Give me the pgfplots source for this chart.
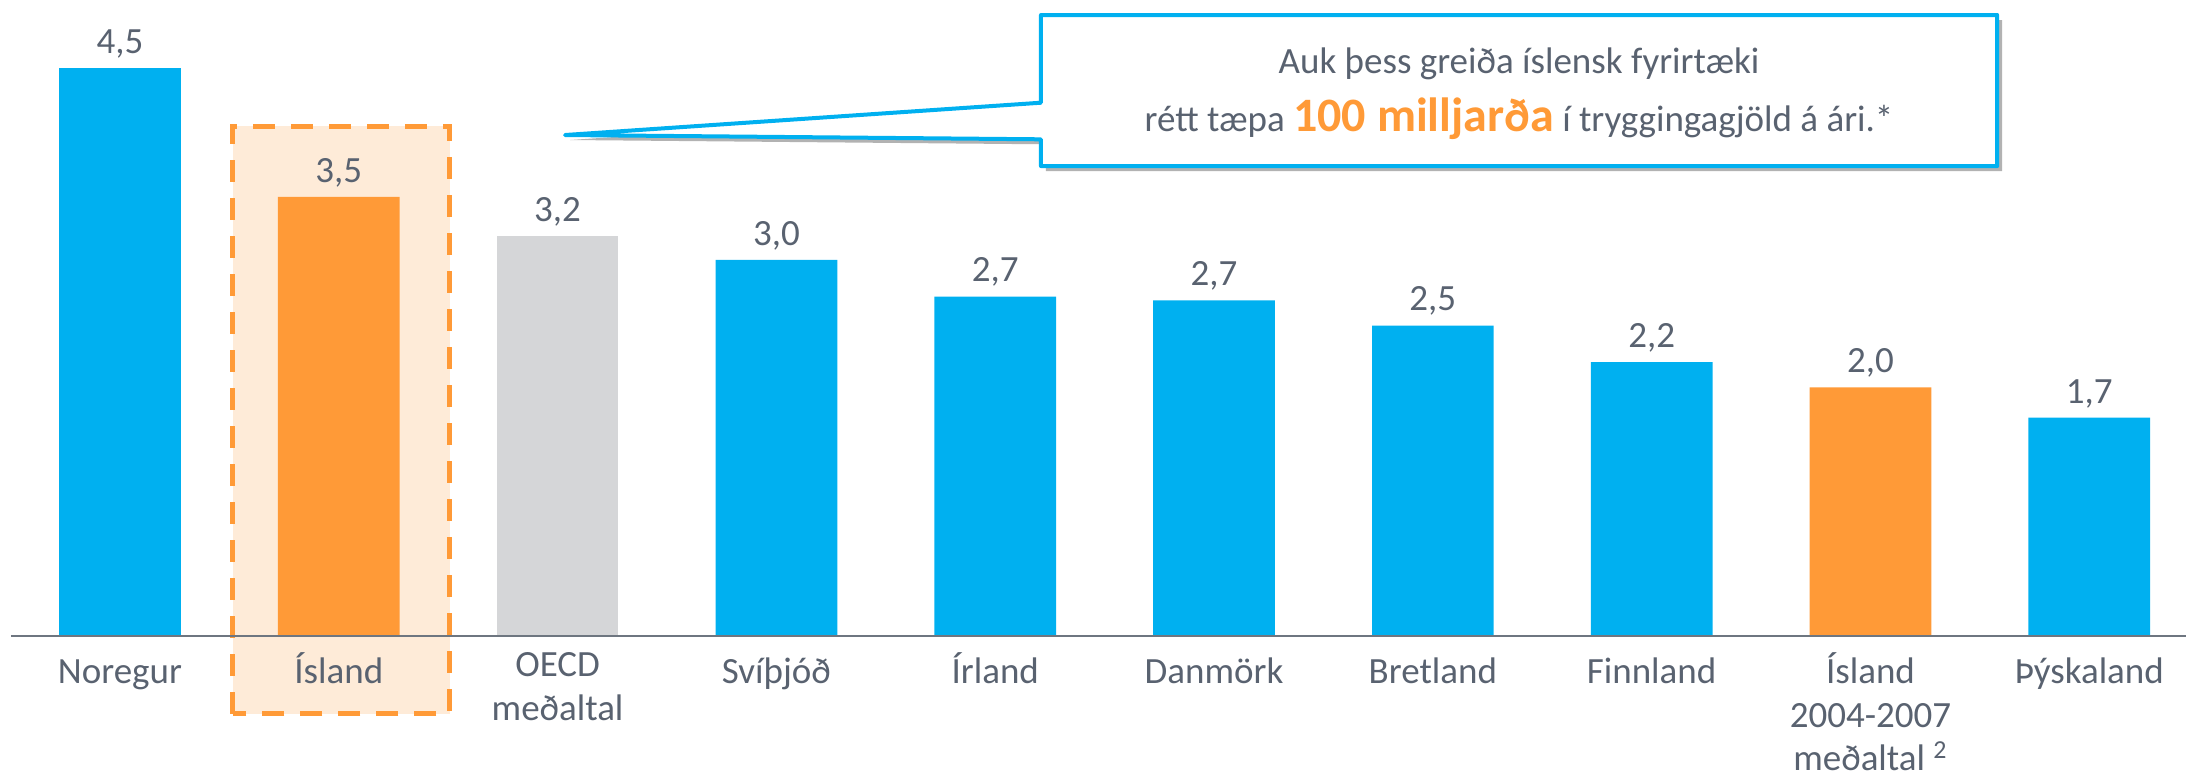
\documentclass[border=0pt]{standalone}
\usepackage{fontspec}
\setmainfont{Carlito}
\usepackage{pgfplots}
\pgfplotsset{compat=1.18}
\usetikzlibrary{shadows}

\definecolor{barblue}{HTML}{00B0F0}
\definecolor{barorange}{HTML}{FF9A37}
\definecolor{bargray}{HTML}{D5D6D8}
\definecolor{boxfill}{HTML}{FEEBD8}
\definecolor{txt}{HTML}{596270}
\definecolor{axisgray}{HTML}{6E7680}

\begin{document}
\begin{tikzpicture}
\begin{axis}[
    width=1087.5pt, height=318pt, scale only axis,
    xmin=-0.498, xmax=9.442, ymin=0, ymax=5.04,
    axis x line*=bottom, axis y line=none,
    x axis line style={axisgray, line width=1.2pt, -},
    xtick={0,...,9},
    xticklabels={Noregur, Ísland, OECD\\meðaltal, Svíþjóð, Írland, Danmörk, Bretland, Finnland, Ísland\\2004-2007\\meðaltal \textsuperscript{2}, Þýskaland},
    major tick length=0pt,
    xticklabel style={align=center, anchor=north, inner sep=0pt, yshift=-8.1pt, text=txt,
        font=\fontsize{18.5}{21.8}\selectfont, execute at begin node=\strut},
    ytick=\empty,
    ybar, bar width=60.85pt,
    nodes near coords,
    nodes near coords style={anchor=base, yshift=7.3pt, text=txt,
        font=\fontsize{18.5}{22.5}\selectfont},
    /pgf/number format/use comma,
    /pgf/number format/fixed,
    /pgf/number format/fixed zerofill,
    /pgf/number format/precision=1,
    /pgf/number format/assume math mode=true,
    clip=false, axis on top,
]
% highlight box round Island
\draw[barorange, line width=2.5pt, dash pattern=on 11pt off 8pt, fill=boxfill]
    (axis cs:0.516,-0.617) rectangle (axis cs:1.508,4.04);

\addplot[fill=barblue, draw=none, bar shift=0pt] coordinates {
    (0,4.50) (3,2.98) (4,2.69) (5,2.66) (6,2.46) (7,2.17) (9,1.73)};
\addplot[fill=barorange, draw=none, bar shift=0pt] coordinates {
    (1,3.48) (8,1.97)};
\addplot[fill=bargray, draw=none, bar shift=0pt] coordinates {
    (2,3.17)};

% callout
\draw[barblue, line width=2pt, fill=white, line join=round,
      drop shadow={shadow xshift=2.5pt, shadow yshift=-2.5pt, fill=black, opacity=0.3}]
    (axis cs:4.209,4.921) -- (axis cs:8.579,4.921) -- (axis cs:8.579,3.724)
    -- (axis cs:4.209,3.724) -- (axis cs:4.209,3.936) -- (axis cs:2.034,3.970)
    -- (axis cs:4.209,4.226) -- cycle;
\node[anchor=base, text=txt, font=\fontsize{18.5}{22.5}\selectfont]
    at (axis cs:6.394,4.454) {Auk þess greiða íslensk fyrirtæki};
\node[anchor=base, text=txt, font=\fontsize{18.5}{22.5}\selectfont]
    at (axis cs:6.394,3.995) {rétt tæpa {\fontsize{24}{28}\selectfont\bfseries\color{barorange}100 milljarða} í tryggingagjöld á ári.*};
\end{axis}
\pgfresetboundingbox
\useasboundingbox ([xshift=-5.5pt, yshift=-70pt]current axis.south west) rectangle (current axis.north east);
\end{tikzpicture}
\end{document}
